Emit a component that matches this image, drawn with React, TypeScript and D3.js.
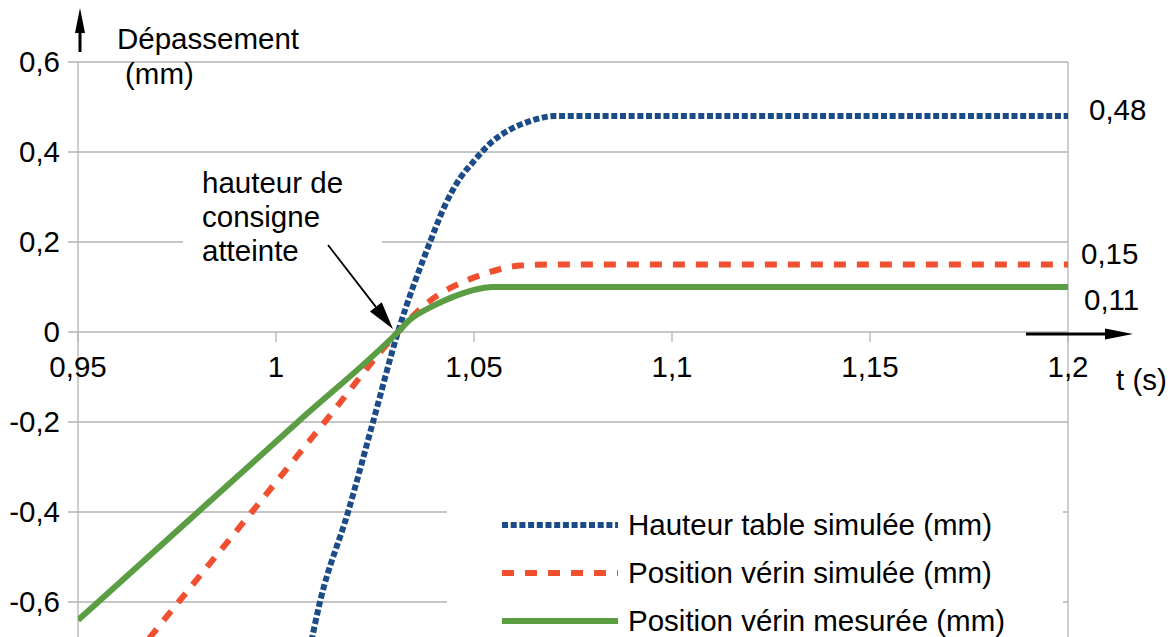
import React from "react";
import * as d3 from "d3";

// Series (t in s, value in mm)
const seriesNames = [
  "Hauteur table simulée (mm)",
  "Position vérin simulée (mm)",
  "Position vérin mesurée (mm)",
];
const blueT = [1.0061, 1.0086, 1.0111, 1.0182, 1.0245, 1.0308, 1.0389, 1.0427, 1.0465, 1.0498, 1.0542, 1.0593, 1.0636, 1.0676, 1.0705, 1.2];
const blueV = [-0.8, -0.7, -0.6, -0.4, -0.2, 0, 0.2, 0.282, 0.342, 0.378, 0.42, 0.451, 0.467, 0.477, 0.48, 0.48];
const redT = [0.9570, 0.9662, 0.9754, 0.9939, 1.0123, 1.0308, 1.0381, 1.0422, 1.0472, 1.0533, 1.0586, 1.0641, 1.07, 1.2];
const redV = [-0.8, -0.7, -0.6, -0.4, -0.2, 0, 0.064, 0.089, 0.111, 0.131, 0.144, 0.149, 0.15, 0.15];
const greenT = [0.95, 0.9551, 0.9803, 1.0055, 1.0308, 1.0338, 1.0397, 1.0447, 1.0498, 1.0548, 1.0573, 1.2];
const greenV = [-0.64, -0.6, -0.4, -0.2, 0, 0.027, 0.058, 0.078, 0.093, 0.1, 0.1, 0.1];

const xTicks = [0.95, 1, 1.05, 1.1, 1.15, 1.2];
const yTicks = [-0.6, -0.4, -0.2, 0, 0.2, 0.4, 0.6];

// end-value labels on the right
const endLabels = ["0,48", "0,15", "0,11"];
const noteLines = ["hauteur de", "consigne", "atteinte"];
const crossingT = 1.0308;

const colors = ["#1b4c88", "#f04f30", "#5b9d42"];
const dashes = ["6 2.7", "12 11", null];
const FONT = "'Liberation Sans', Arial, sans-serif";
const FS = 29.5;
const fmt = (v: number) => String(+v.toFixed(2)).replace(".", ",");

export default function App() {
  const width = 1174;
  const height = 637;
  const x = d3.scaleLinear().domain([0.95, 1.2]).range([78, 1068]);
  const y = d3.scaleLinear().domain([-0.7, 0.6]).range([647, 62]);

  const series = [
    blueT.map((t, i) => [t, blueV[i]] as [number, number]),
    redT.map((t, i) => [t, redV[i]] as [number, number]),
    greenT.map((t, i) => [t, greenV[i]] as [number, number]),
  ];
  const line = d3
    .line<[number, number]>()
    .x((d) => x(d[0]))
    .y((d) => y(d[1]))
    .curve(d3.curveMonotoneX);

  const grid = "#b3b3b3";
  const x0 = x.range()[0];
  const x1 = x.range()[1];
  const y0 = y(0);

  // right-side label anchors
  const endLabelY = [y(0.48) - 6, y(0.15) - 11, y(0.1) + 13];
  const endLabelX = [x1 + 21, x1 + 13, x1 + 16];

  // annotation arrow toward the crossing point
  const tipX = x(crossingT) - 5;
  const tipY = y0 - 3;
  const startX = 328;
  const startY = 245;
  const ang = Math.atan2(tipY - startY, tipX - startX);
  const headL = 28;
  const headW = 7.5;
  const bx = tipX - headL * Math.cos(ang);
  const by = tipY - headL * Math.sin(ang);
  const px = -Math.sin(ang) * headW;
  const py = Math.cos(ang) * headW;

  const legendY = [525, 573, 621];

  return (
    <svg
      width={width}
      height={height}
      style={{ position: "absolute", left: 0, top: 0, background: "#fff" }}
      fontFamily={FONT}
    >
      <defs>
        <clipPath id="plot">
          <rect x={x0} y={y.range()[1]} width={x1 - x0} height={y.range()[0] - y.range()[1]} />
        </clipPath>
      </defs>
      <rect width={width} height={height} fill="#fff" />

      {/* horizontal grid + y ticks */}
      {yTicks.map((v) => (
        <g key={v}>
          <line x1={x0 - 10} x2={x1} y1={y(v)} y2={y(v)} stroke={grid} strokeWidth={1.3} />
          <text x={60} y={y(v)} dy="0.35em" textAnchor="end" fontSize={FS} fill="#000">
            {fmt(v)}
          </text>
        </g>
      ))}
      {/* vertical axis lines */}
      <line x1={x0} x2={x0} y1={y.range()[1]} y2={height} stroke={grid} strokeWidth={1.3} />
      <line x1={x1} x2={x1} y1={y.range()[1]} y2={height} stroke={grid} strokeWidth={1.3} />
      {/* x ticks on zero line */}
      {xTicks.map((t) => (
        <g key={t}>
          <line x1={x(t)} x2={x(t)} y1={y0} y2={y0 + 10} stroke={grid} strokeWidth={1.3} />
          <text x={x(t)} y={y0 + 45} textAnchor="middle" fontSize={FS} fill="#000">
            {fmt(t)}
          </text>
        </g>
      ))}

      {/* series */}
      <g clipPath="url(#plot)">
        {series.map((s, i) => (
          <path
            key={i}
            d={line(s) || ""}
            fill="none"
            stroke={colors[i]}
            strokeWidth={6}
            strokeDasharray={dashes[i] || undefined}
          />
        ))}
      </g>

      {/* annotation */}
      <rect x={183} y={158} width={199} height={140} fill="#fff" />
      {noteLines.map((t, i) => (
        <text key={t} x={202} y={193 + i * 34} fontSize={FS} fill="#000">
          {t}
        </text>
      ))}
      <line x1={startX} y1={startY} x2={bx} y2={by} stroke="#000" strokeWidth={1.8} />
      <polygon
        points={`${tipX},${tipY} ${bx + px},${by + py} ${bx - px},${by - py}`}
        fill="#000"
      />

      {/* end labels */}
      {endLabels.map((t, i) => (
        <text key={t} x={endLabelX[i]} y={endLabelY[i]} dy="0.35em" fontSize={FS} fill="#000">
          {t}
        </text>
      ))}

      {/* legend */}
      <rect x={447} y={495} width={1063 - 447} height={height - 495} fill="#fff" />
      {seriesNames.map((name, i) => (
        <g key={name}>
          <line
            x1={502}
            x2={618}
            y1={legendY[i]}
            y2={legendY[i]}
            stroke={colors[i]}
            strokeWidth={6}
            strokeDasharray={dashes[i] || undefined}
          />
          <text x={628} y={legendY[i]} dy="0.35em" fontSize={FS} fill="#000">
            {name}
          </text>
        </g>
      ))}

      {/* y axis arrow + title */}
      <line x1={80} x2={80} y1={52} y2={30} stroke="#000" strokeWidth={3} />
      <polygon points="75,33 85,33 80,8" fill="#000" />
      <text x={117} y={49} fontSize={FS} fill="#000">
        Dépassement
      </text>
      <text x={125} y={84} fontSize={FS} fill="#000">
        (mm)
      </text>

      {/* x axis arrow + title */}
      <line x1={x1 - 42} x2={x1 + 40} y1={y0 + 2} y2={y0 + 2} stroke="#000" strokeWidth={3} />
      <polygon
        points={`${x1 + 37},${y0 - 3.5} ${x1 + 37},${y0 + 7.5} ${x1 + 65},${y0 + 2}`}
        fill="#000"
      />
      <text x={1116} y={390} fontSize={FS} fill="#000">
        t (s)
      </text>
    </svg>
  );
}
